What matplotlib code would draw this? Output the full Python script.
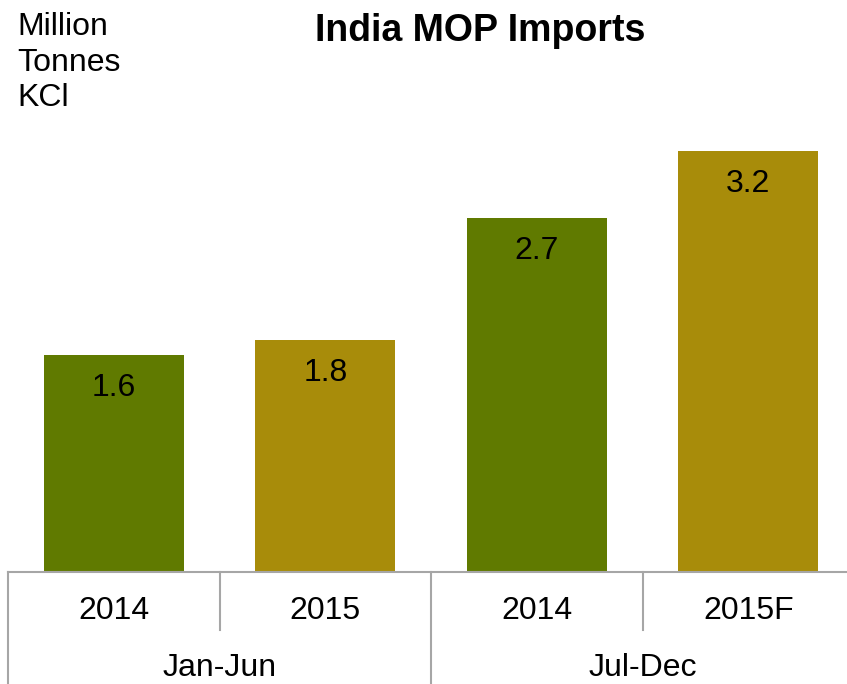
import matplotlib
matplotlib.use("Agg")
import matplotlib.pyplot as plt

plt.rcParams['font.family'] = ['Liberation Sans', 'DejaVu Sans']

years = ["2014", "2015", "2014", "2015F"]
groups = ["Jan-Jun", "Jul-Dec"]
values = [1.66, 1.77, 2.70, 3.21]
labels = ["1.6", "1.8", "2.7", "3.2"]
colors = ["#607A00", "#A88C0A", "#607A00", "#A88C0A"]

W, H = 847, 684
fig = plt.figure(figsize=(W / 100, H / 100), dpi=100)
ax_left, ax_bottom, ax_top = 8, 572, 140
ax = fig.add_axes([ax_left / W, (H - ax_bottom) / H, 1 - ax_left / W, (ax_bottom - ax_top) / H])

x = list(range(len(values)))
ax.bar(x, values, width=0.66, color=colors)
cat_px = 211.5
ax.set_xlim(-0.5, -0.5 + (W - ax_left) / cat_px)
ax.set_ylim(0, (ax_bottom - ax_top) / 131.0)

for xi, v, lab in zip(x, values, labels):
    ax.annotate(lab, (xi, v), xytext=(0, -33 * 0.72), textcoords='offset points',
                ha='center', va='center', fontsize=23, color='black')

for s in ax.spines.values():
    s.set_visible(False)
ax.set_xticks([])
ax.set_yticks([])

axh = ax_bottom - ax_top
def yfrac(p):
    return (ax_bottom - p) / axh

tr = ax.get_xaxis_transform()
grey = "#A6A6A6"
ax.plot([-0.5, 10], [0, 0], transform=tr, color=grey, lw=1.5, clip_on=False)
for b in [-0.5, 1.5]:
    ax.plot([b, b], [0, yfrac(H + 5)], transform=tr, color=grey, lw=1.5, clip_on=False)
for b in [0.5, 2.5]:
    ax.plot([b, b], [0, yfrac(630)], transform=tr, color=grey, lw=1.5, clip_on=False)

for xi, yl in zip(x, years):
    ax.text(xi, yfrac(611), yl, transform=tr, ha='center', va='center', fontsize=23)
for gi, g in enumerate(groups):
    ax.text(gi * 2 + 0.5, yfrac(668), g, transform=tr, ha='center', va='center', fontsize=23)

fig.text(480 / W, 1 - 31 / H, "India MOP Imports", ha='center', va='center',
         fontsize=27, fontweight='bold')
fig.text(17 / W, 1 - 12 / H, "Million\nTonnes\nKCl", ha='left', va='top',
         fontsize=23, linespacing=1.25)

fig.savefig("out.png", dpi=100)
